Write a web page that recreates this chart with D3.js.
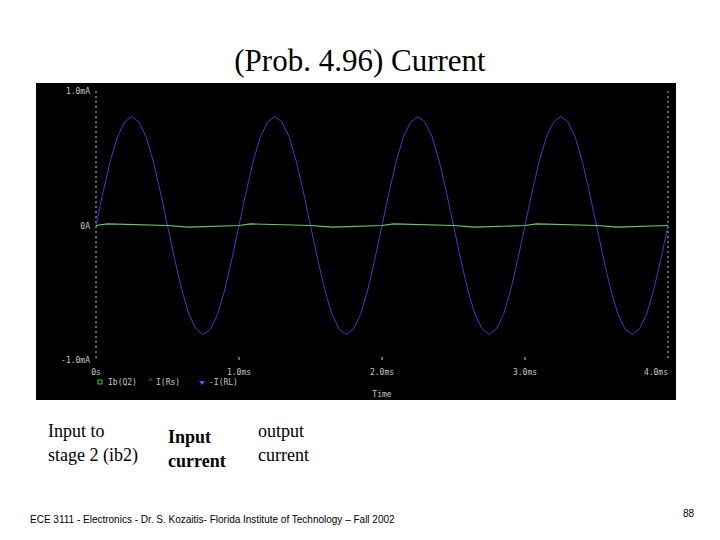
<!DOCTYPE html>
<html><head><meta charset="utf-8">
<script src="https://cdn.jsdelivr.net/npm/d3@7"></script>
<style>body{margin:0;background:#fff}</style>
</head><body>
<script>
// time in ms, current in mA
const timeStep = 0.05
const cycle = [0, 0.25, 0.48, 0.66, 0.77, 0.81, 0.77, 0.66, 0.48, 0.25,
  0, -0.25, -0.48, -0.66, -0.77, -0.81, -0.77, -0.66, -0.48, -0.25]
const outputCurrent = [...cycle, ...cycle, ...cycle, ...cycle, 0]
const inputTimes = [0, 0.08, 0.5, 0.65, 1.0, 1.08, 1.5, 1.65, 2.0, 2.08, 2.5, 2.65, 3.0, 3.08, 3.5, 3.65, 4.0]
const inputCurrent = [0, 0.012, 0.0, -0.012, 0, 0.012, 0.0, -0.012, 0, 0.012, 0.0, -0.012, 0, 0.012, 0.0, -0.012, 0]
const xTicks = [0, 1, 2, 3, 4]
const xTickLabels = ['0s', '1.0ms', '2.0ms', '3.0ms', '4.0ms']

const svg = d3.select('body').append('svg').attr('width', 720).attr('height', 540)

svg.append('text').attr('x', 360).attr('y', 71).attr('text-anchor', 'middle')
  .style('font-family', 'Liberation Serif').style('font-size', '31px').text('(Prob. 4.96) Current')

svg.append('rect').attr('x', 36).attr('y', 83).attr('width', 640).attr('height', 317).attr('fill', '#000')

const x = d3.scaleLinear().domain([0, 4]).range([96, 668])
const y = d3.scaleLinear().domain([-1, 1]).range([360, 91])
const mono = {'font-family': 'DejaVu Sans Mono', 'font-size': '8px', fill: '#c8c8c8'}
const dash = '2,3'

// frame lines
svg.append('line').attr('x1', x(0)).attr('x2', x(0)).attr('y1', y(1)).attr('y2', y(-1))
  .attr('stroke', '#ccc').attr('stroke-dasharray', dash)
svg.append('line').attr('x1', x(4)).attr('x2', x(4)).attr('y1', y(1)).attr('y2', y(-1))
  .attr('stroke', '#ccc').attr('stroke-dasharray', dash)
xTicks.slice(1, 4).forEach(t => svg.append('line').attr('x1', x(t)).attr('x2', x(t))
  .attr('y1', y(-1) - 3).attr('y2', y(-1)).attr('stroke', '#ccc'))

const addText = (tx, ty, s, anchor) => {
  const t = svg.append('text').attr('x', tx).attr('y', ty).attr('text-anchor', anchor || 'start').text(s)
  Object.entries(mono).forEach(([k, v]) => t.style(k, v))
  return t
}
addText(x(0) - 6, y(1) + 3, '1.0mA', 'end')
addText(x(0) - 6, y(0) + 3, '0A', 'end')
addText(x(0) - 6, y(-1) + 3, '-1.0mA', 'end')
xTicks.forEach((t, i) => addText(x(t), 375, xTickLabels[i], i === 4 ? 'end' : 'middle'))
addText(x(2), 397, 'Time', 'middle')

// legend
svg.append('rect').attr('x', 98).attr('y', 380).attr('width', 4).attr('height', 4).attr('fill', 'none').attr('stroke', '#3c3')
addText(108, 385, 'Ib(Q2)')
addText(148, 385, '^', 'start').style('fill', '#a55')
addText(156, 385, 'I(Rs)')
svg.append('path').attr('d', 'M199,381 L205,381 L202,385 Z').attr('fill', '#55f')
addText(209, 385, '-I(RL)')

const line = d3.line().x(d => x(d[0])).y(d => y(d[1]))
svg.append('path').datum(outputCurrent.map((v, i) => [i * timeStep, v]))
  .attr('d', line).attr('fill', 'none').attr('stroke', '#3c3cc8').attr('stroke-width', 1)
svg.append('path').datum(inputTimes.map((t, i) => [t, inputCurrent[i]]))
  .attr('d', line).attr('fill', 'none').attr('stroke', '#6c6').attr('stroke-width', 1.2)

// annotations
const serif = (tx, ty, s, bold) => svg.append('text').attr('x', tx).attr('y', ty)
  .style('font-family', 'Liberation Serif').style('font-size', '18px')
  .style('font-weight', bold ? 'bold' : 'normal').text(s)
serif(48, 437, 'Input to')
serif(48, 461, 'stage 2 (ib2)')
serif(168, 443, 'Input', true)
serif(168, 467, 'current', true)
serif(258, 437, 'output')
serif(258, 461, 'current')

svg.append('text').attr('x', 30).attr('y', 523).style('font-family', 'Liberation Sans').style('font-size', '10px')
  .text('ECE 3111 - Electronics - Dr. S. Kozaitis- Florida Institute of Technology – Fall 2002')
svg.append('text').attr('x', 694).attr('y', 517).attr('text-anchor', 'end').style('font-family', 'Liberation Sans').style('font-size', '10px')
  .text('88')
</script>
</body></html>
